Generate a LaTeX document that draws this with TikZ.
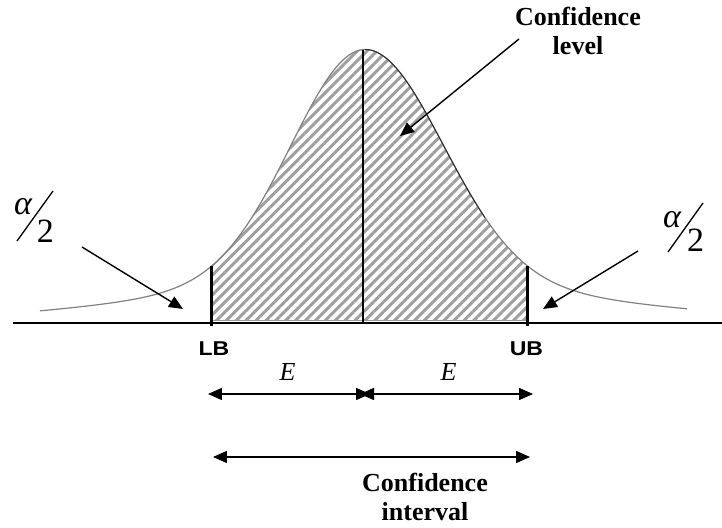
\documentclass[tikz,border=0pt]{standalone}
\usepackage{fontspec}
\setmainfont{Liberation Serif}
\setsansfont{Liberation Sans}
\usetikzlibrary{arrows.meta,patterns.meta}

\begin{document}
\begin{tikzpicture}[
		x=1pt,y=1pt,
		>={Triangle[length=14pt,width=12pt]},
		declare function={bell(\x)=273*(0.85*exp(-0.5*(\x/73)^2)+0.15*exp(-0.5*(\x/205)^2));},
		curveline/.style={black!50,line width=1.2pt},
		boundline/.style={line width=3pt,black},
		pointer/.style={->,line width=1.4pt},
		halfspan/.style={<->,line width=1.5pt},
		caption/.style={font=\fontsize{26}{29}\selectfont\bfseries,align=center,inner sep=0pt},
		endlabel/.style={font=\fontsize{20}{21}\sffamily\bfseries,inner sep=0pt,xscale=1.15},
		errlabel/.style={font=\fontsize{26}{28}\selectfont\itshape,inner sep=0pt},
		alphalabel/.style={font=\fontsize{34}{36}\selectfont\itshape,inner sep=0pt},
		twolabel/.style={font=\fontsize{34}{36}\selectfont,inner sep=0pt},
	]
	\useasboundingbox (-365,-204.5) rectangle (357,322.5);

	% ---------- points on the axis ----------
	\coordinate (lb) at (-153,0);
	\coordinate (ub) at (162,0);
	\coordinate (mid) at (-2,0);

	% ---------- hatched area ----------
	\fill[pattern={Lines[angle=45,distance=7pt,line width=3pt]},pattern color=gray!75]
		(-153,2) -- plot[domain=-153:0,samples=60] (\x,{bell(\x)})
		-- plot[domain=0:162,samples=60] (\x,{bell(\x/1.06)}) -- (162,2) -- cycle;
	\draw[gray!80,line width=0.6pt] (-153,2) -- (162,2);

	% ---------- bell curve and axis ----------
	\draw[curveline] plot[domain=-325:0,samples=100] (\x,{bell(\x)})
		-- plot[domain=0:322,samples=100] (\x,{bell(\x/1.06)});
	\draw[black!85,line width=0.9pt] plot[domain=0:120,samples=40] (\x,{bell(\x/1.06)});
	\draw[line width=2pt] (-352,0) -- (357,0);
	\draw[line width=1.3pt] (mid) -- (-2,{bell(-2)});
	\draw[boundline] ([yshift=-3.5pt]lb) -- (-153,{bell(-153)});
	\draw[boundline] ([yshift=-3.5pt]ub) -- (162,{bell(162/1.06)});

	% ---------- labels on the axis ----------
	\node[endlabel] (lbtext) at (-151,-26) {LB};
	\node[endlabel] (ubtext) at (161.5,-26) {UB};
	\node[errlabel] (eleft) at (-77.5,-49) {E};
	\node[errlabel] (eright) at (83.5,-49) {E};

	% ---------- margin of error and interval ----------
	\coordinate (e1) at (-157,-71.5);
	\coordinate (e2) at (5,-71.5);
	\coordinate (e3) at (-5,-71.5);
	\coordinate (e4) at (168,-71.5);
	\draw[halfspan] (e1) -- (e2);
	\draw[halfspan] (e3) -- (e4);
	\coordinate (ci1) at (-152,-134.5);
	\coordinate (ci2) at (165,-134.5);
	\draw[halfspan] (ci1) -- (ci2);
	\node[caption] (intervaltext) at (60,-174.5) {Confidence\\interval};

	% ---------- confidence level ----------
	\node[caption] (leveltext) at (213,292) {Confidence\\level};
	\coordinate (levtail) at (154,283.5);
	\coordinate (levhead) at (35,186.5);
	\draw[pointer] (levtail) -- (levhead);

	% ---------- alpha/2 tails ----------
	\node[alphalabel] (alphaleft) at (-342,115.5) {α};
	\node[twolabel] (twoleft) at (-319.5,91) {2};
	\draw[line width=1.3pt] (-348,81.5) -- (-312,131.5);
	\coordinate (ltail) at (-283,75.5);
	\coordinate (lhead) at (-182,13.5);
	\draw[pointer] (ltail) -- (lhead);

	\node[alphalabel] (alpharight) at (307,102.5) {α};
	\node[twolabel] (tworight) at (330.5,82) {2};
	\draw[line width=1.3pt] (303,70.5) -- (338,119.5);
	\coordinate (rtail) at (273,71.5);
	\coordinate (rhead) at (178,13.5);
	\draw[pointer] (rtail) -- (rhead);

\end{tikzpicture}
\end{document}
